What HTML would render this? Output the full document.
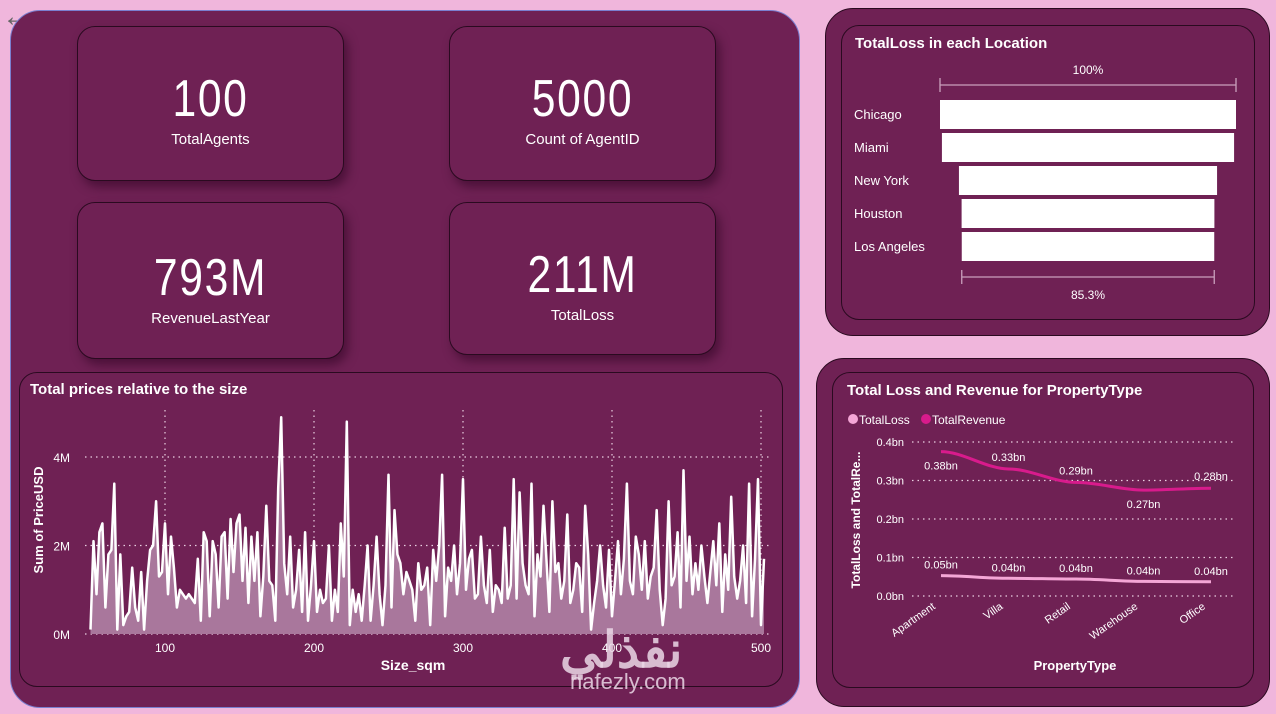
<!DOCTYPE html>
<html><head><meta charset="utf-8">
<style>
body{margin:0;width:1276px;height:714px;background:#f0b6dc;font-family:"Liberation Sans",sans-serif;position:relative;overflow:hidden;color:#fff}
.abs{position:absolute}
.panel{background:#6f2154;border-radius:28px}
.card{position:absolute;background:#6f2154;border:1px solid #2a0a20;border-radius:18px;box-shadow:4px 6px 10px rgba(40,0,30,.5);text-align:center}
.big{font-size:52px;letter-spacing:2px;margin-top:46px;line-height:52px;transform:scaleX(0.82)}
.lbl{font-size:15px;margin-top:6px}
.title{font-weight:bold;font-size:15px;position:absolute}
</style></head><body>
<div class="abs" style="left:2px;top:0;font-size:30px;color:#666">&#8592;</div>
<div class="abs panel" style="left:10px;top:10px;width:788px;height:696px;border:1px solid #7a7fd0;border-radius:30px"></div>
<div class="card" style="left:77px;top:26px;width:265px;height:153px"><div class="big">100</div><div class="lbl">TotalAgents</div></div>
<div class="card" style="left:449px;top:26px;width:265px;height:153px"><div class="big">5000</div><div class="lbl">Count of AgentID</div></div>
<div class="card" style="left:77px;top:202px;width:265px;height:155px"><div class="big" style="margin-top:49px">793M</div><div class="lbl">RevenueLastYear</div></div>
<div class="card" style="left:449px;top:202px;width:265px;height:151px"><div class="big">211M</div><div class="lbl">TotalLoss</div></div>
<div class="card" style="left:19px;top:372px;width:762px;height:313px;box-shadow:none"></div>
<div class="title" style="left:30px;top:381px">Total prices relative to the size</div>
<svg class="abs" style="left:0;top:0" width="1276" height="714" id="svg"></svg>

<div class="abs panel" style="left:825px;top:8px;width:443px;height:326px;border:1px solid #2a0a20"></div>
<div class="card" style="left:841px;top:25px;width:412px;height:293px;box-shadow:none"></div>
<div class="title" style="left:855px;top:35px">TotalLoss in each Location</div>
<div class="abs panel" style="left:816px;top:358px;width:452px;height:347px;border:1px solid #2a0a20"></div>
<div class="card" style="left:832px;top:372px;width:420px;height:314px;box-shadow:none"></div>
<div class="title" style="left:847px;top:382px">Total Loss and Revenue for PropertyType</div>
<svg class="abs" style="left:0;top:0" width="1276" height="714" id="svg2"></svg>
<div class="abs" style="left:560px;top:630px;font-size:50px;font-weight:bold;color:rgba(235,215,230,.85);font-family:'Liberation Sans','Noto Sans CJK SC',sans-serif;line-height:40px">نفذلي<div style="font-size:22px;font-weight:normal;line-height:24px;margin-left:10px">nafezly.com</div></div>
<script>
const sizes0=50, sizeStep=2;
const prices=[0.1,2.1,0.9,2.3,2.5,0.6,1.8,1.9,3.4,0.1,1.8,0.2,0.4,0.5,1.5,0.6,0.3,1.4,0.1,1.2,1.9,2.0,3.0,1.3,1.4,2.5,0.9,2.2,1.5,0.6,
1.0,0.9,0.8,0.9,0.8,0.7,1.7,0.3,2.3,2.1,0.4,2.1,1.8,0.6,2.2,2.3,0.8,2.6,1.4,2.5,2.7,1.2,2.4,0.7,2.2,1.2,2.3,0.4,1.3,2.9,
1.2,1.1,0.3,3.3,4.9,1.6,0.9,2.2,0.6,1.0,1.9,0.5,2.3,0.3,1.1,2.1,0.5,1.0,0.7,0.8,2.0,0.3,1.0,0.5,2.5,1.3,4.8,0.2,1.0,0.5,
0.9,0.3,1.1,2.0,0.3,1.1,2.2,0.9,0.2,1.1,3.6,0.6,2.8,1.8,1.6,0.9,1.4,1.2,1.0,0.3,1.6,1.0,1.1,1.5,0.2,1.9,1.2,2.0,3.6,0.4,
1.5,1.2,2.0,0.9,1.6,3.5,1.0,1.7,1.9,0.8,0.9,2.2,1.1,0.7,1.9,0.5,1.1,1.0,0.7,2.4,0.8,1.1,3.5,0.8,3.2,1.6,1.1,0.9,3.4,0.4,
1.8,1.3,2.9,1.7,0.5,3.0,1.4,1.6,0.8,1.2,2.7,0.7,1.0,1.6,1.5,0.5,2.9,1.8,0.1,0.7,1.2,2.0,1.1,0.6,1.9,0.4,1.2,2.1,0.9,1.7,
3.4,1.2,0.9,2.2,1.8,1.0,2.1,0.8,1.3,1.5,2.8,1.0,0.2,0.8,3.0,1.1,1.3,2.3,0.6,3.7,1.2,2.2,0.9,1.6,1.0,2.0,1.3,0.7,1.4,2.1,
1.1,2.5,0.5,1.8,1.0,3.1,1.3,0.8,1.2,2.0,0.7,3.4,0.4,1.7,3.5,0.2,1.7];
const yTicks=[0,2,4], yTickLabels=["0M","2M","4M"];
const xTicks=[100,200,300,400,500];
const NS="http://www.w3.org/2000/svg";
const svg=document.getElementById('svg');
function xS(v){return 165+(v-100)*596/400}
function yS(v){return 634-v*44.25}
function mk(p,t,a){const e=document.createElementNS(NS,t);for(const k in a)e.setAttribute(k,a[k]);p.appendChild(e);return e}
yTicks.forEach((t,i)=>{
 const l=mk(svg,'line',{x1:85,x2:772,y1:yS(t),y2:yS(t),stroke:'#e9cfe0','stroke-dasharray':'1.5 4','stroke-width':1.2});
 
 const tx=mk(svg,'text',{x:70,y:yS(t)+5,'text-anchor':'end',fill:'#fff','font-size':12,'font-family':'Liberation Sans'});tx.textContent=yTickLabels[i];
 
});
xTicks.forEach(t=>{
 const l=mk(svg,'line',{x1:xS(t),x2:xS(t),y1:410,y2:634,stroke:'#e9cfe0','stroke-dasharray':'1.5 4','stroke-width':1.2});
 
 const tx=mk(svg,'text',{x:xS(t),y:652,'text-anchor':'middle',fill:'#fff','font-size':12,'font-family':'Liberation Sans'});tx.textContent=t;
 
});
let d='',da='M'+xS(sizes0)+','+yS(0);
prices.forEach((v,i)=>{const x=xS(sizes0+i*sizeStep),y=yS(v);d+=(i?'L':'M')+x.toFixed(1)+','+y.toFixed(1);da+='L'+x.toFixed(1)+','+y.toFixed(1)});
da+='L'+xS(sizes0+(prices.length-1)*sizeStep)+','+yS(0)+'Z';
const ar=mk(svg,'path',{d:da,fill:'#a9779c'});
const ln=mk(svg,'path',{d:d,fill:'none',stroke:'#fff','stroke-width':2.5,'stroke-linejoin':'round'});
let t1=mk(svg,'text',{x:413,y:670,'text-anchor':'middle',fill:'#fff','font-size':14,'font-weight':'bold','font-family':'Liberation Sans'});t1.textContent='Size_sqm';

let t2=mk(svg,'text',{x:0,y:0,transform:'translate(43,520) rotate(-90)','text-anchor':'middle',fill:'#fff','font-size':13,'font-weight':'bold','font-family':'Liberation Sans'});t2.textContent='Sum of PriceUSD';


// funnel
const svg2=document.getElementById('svg2');
const locations=["Chicago","Miami","New York","Houston","Los Angeles"];
const lossPct=[100,98.7,87.2,85.4,85.3];
const fC=1088,fW=296;
locations.forEach((n,i)=>{
 const w=fW*lossPct[i]/100,y=100+i*33;
 const r=mk(svg2,'rect',{x:fC-w/2,y:y,width:w,height:29,fill:'#fff'});
 const t=mk(svg2,'text',{x:854,y:y+19,fill:'#fff','font-size':13,'font-family':'Liberation Sans'});t.textContent=n;
});
function bracket(pct,y,lab,ly){const w=fW*pct/100;
 mk(svg2,'path',{d:`M${fC-w/2},${y-7}V${y+7}M${fC-w/2},${y}H${fC+w/2}M${fC+w/2},${y-7}V${y+7}`,stroke:'#c9a0bc','stroke-width':1.3,fill:'none'});
 const t=mk(svg2,'text',{x:fC,y:ly,'text-anchor':'middle',fill:'#fff','font-size':12,'font-family':'Liberation Sans'});t.textContent=lab;
 }
bracket(lossPct[0],85,'100%',74);bracket(lossPct[4],277,'85.3%',299);

// line chart
const types=["Apartment","Villa","Retail","Warehouse","Office"];
const revenue=[0.375,0.33,0.295,0.275,0.28];
const loss=[0.053,0.046,0.044,0.038,0.037];
const revLabels=["0.38bn","0.33bn","0.29bn","0.27bn","0.28bn"];
const lossLabels=["0.05bn","0.04bn","0.04bn","0.04bn","0.04bn"];
const lTicks=[0,0.1,0.2,0.3,0.4];
function lx(i){return 941+i*67.5}
function ly(v){return 596-v*385}
lTicks.forEach(t=>{
 const l=mk(svg2,'line',{x1:912,x2:1236,y1:ly(t),y2:ly(t),stroke:'#e9cfe0','stroke-dasharray':'1.5 4','stroke-width':1.2});
 
 const tx=mk(svg2,'text',{x:904,y:ly(t)+4,'text-anchor':'end',fill:'#fff','font-size':11,'font-family':'Liberation Sans'});tx.textContent=t.toFixed(1)+'bn';
 
});
function curve(vals){let s='';for(let i=0;i<vals.length;i++){const x=lx(i),y=ly(vals[i]);if(!i)s='M'+x+','+y;else{const px=lx(i-1),py=ly(vals[i-1]);s+=`C${px+22},${py} ${x-22},${y} ${x},${y}`}}return s}
const rl=mk(svg2,'path',{d:curve(revenue),stroke:'#d81b8c','stroke-width':3,fill:'none'});
const ll=mk(svg2,'path',{d:curve(loss),stroke:'#f4a6d6','stroke-width':3,fill:'none'});
const revOff=[18,-8,-8,18,-8];
types.forEach((n,i)=>{
 let t=mk(svg2,'text',{x:lx(i),y:ly(revenue[i])+revOff[i],'text-anchor':'middle',fill:'#fff','font-size':11,'font-family':'Liberation Sans'});t.textContent=revLabels[i];
 
 t=mk(svg2,'text',{x:lx(i),y:ly(loss[i])-7,'text-anchor':'middle',fill:'#fff','font-size':11,'font-family':'Liberation Sans'});t.textContent=lossLabels[i];
 
 t=mk(svg2,'text',{x:0,y:0,transform:`translate(${lx(i)-5},${608}) rotate(-35)`,'text-anchor':'end',fill:'#fff','font-size':11,'font-family':'Liberation Sans'});t.textContent=n;
 
});
let a=mk(svg2,'text',{x:1075,y:670,'text-anchor':'middle',fill:'#fff','font-size':13,'font-weight':'bold','font-family':'Liberation Sans'});a.textContent='PropertyType';

a=mk(svg2,'text',{x:0,y:0,transform:'translate(860,520) rotate(-90)','text-anchor':'middle',fill:'#fff','font-size':12,'font-weight':'bold','font-family':'Liberation Sans'});a.textContent='TotalLoss and TotalRe...';

[['TotalLoss','#f4a6d6',853],['TotalRevenue','#d81b8c',926]].forEach(([n,c,x])=>{
 const g=mk(svg2,'g',{});
 mk(g,'circle',{cx:x,cy:419,r:5,fill:c});
 const t=mk(g,'text',{x:x+6,y:424,fill:'#fff','font-size':12,'font-family':'Liberation Sans'});t.textContent=n;
});
</script>
</body></html>
